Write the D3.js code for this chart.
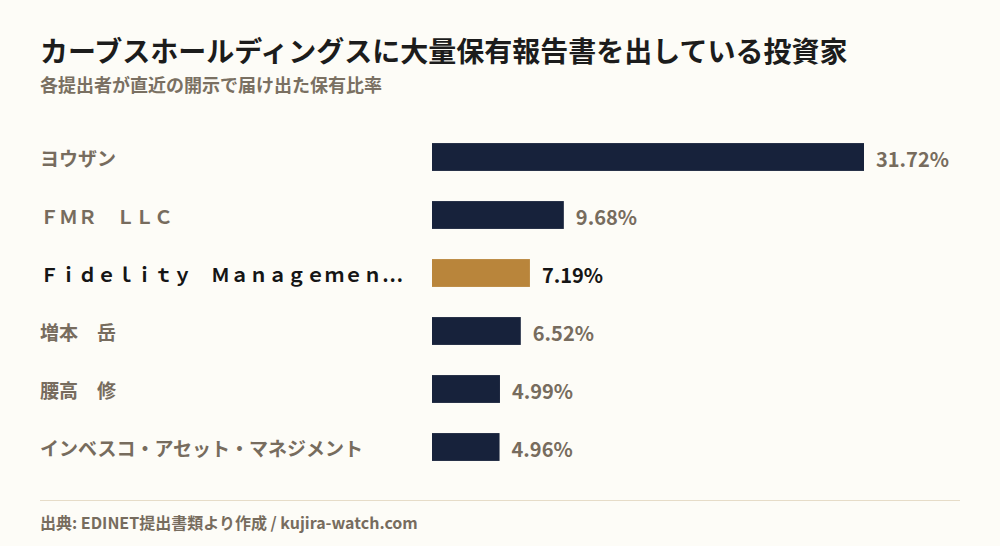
<!DOCTYPE html>
<html>
<head>
<meta charset="utf-8">
<script src="https://cdn.jsdelivr.net/npm/d3@7"></script>
<style>
  html, body { margin: 0; padding: 0; background: #fdfcf7; }
  svg { display: block; font-family: "Noto Sans CJK JP", "Noto Sans", sans-serif; }
</style>
</head>
<body>
<div id="chart"></div>
<script>
// holders and their reported ratios (%)
var holders = ["ヨウザン", "ＦＭＲ　ＬＬＣ", "Ｆｉｄｅｌｉｔｙ　Ｍａｎａｇｅｍｅｎ…", "増本　岳", "腰高　修", "インベスコ・アセット・マネジメント"];
var ratios = [31.72, 9.68, 7.19, 6.52, 4.99, 4.96];
var highlighted = [false, false, true, false, false, false];

var width = 1000, height = 546;
var margin = { left: 432, top: 128 };

var svg = d3.select("#chart")
    .append("svg")
    .attr("width", width)
    .attr("height", height);

svg.append("rect")
    .attr("width", width)
    .attr("height", height)
    .attr("fill", "#fdfcf7");

// title
svg.append("text")
    .attr("x", 40)
    .attr("y", 62)
    .attr("font-size", "28px")
    .attr("font-weight", "bold")
    .attr("fill", "#1c1c1c")
    .text("カーブスホールディングスに大量保有報告書を出している投資家");

svg.append("text")
    .attr("x", 40)
    .attr("y", 92)
    .attr("font-size", "18px")
    .attr("font-weight", "bold")
    .attr("fill", "#7a7062")
    .text("各提出者が直近の開示で届け出た保有比率");

var x = d3.scaleLinear()
    .domain([0, 31.72])
    .range([margin.left, 864]);

var y = d3.scaleBand()
    .domain(holders)
    .range([margin.top, margin.top + 58 * holders.length])
    .paddingInner(0.52)
    .paddingOuter(0.26);

var rows = svg.append("g")
    .selectAll("g")
    .data(holders)
    .enter()
    .append("g");

rows.append("rect")
    .attr("x", x(0))
    .attr("y", function (d) { return y(d); })
    .attr("width", function (d, i) { return x(ratios[i]) - x(0); })
    .attr("height", y.bandwidth())
    .attr("fill", function (d, i) { return highlighted[i] ? "#b9853b" : "#17223b"; });

rows.append("text")
    .attr("x", 40)
    .attr("y", function (d) { return y(d) + y.bandwidth() / 2 + 2; })
    .attr("dy", "0.35em")
    .attr("font-size", "19px")
    .attr("font-weight", "bold")
    .attr("fill", function (d, i) { return highlighted[i] ? "#151515" : "#776c5e"; })
    .text(function (d) { return d; });

rows.append("text")
    .attr("x", function (d, i) { return x(ratios[i]) + 12; })
    .attr("y", function (d) { return y(d) + y.bandwidth() / 2 + 2; })
    .attr("dy", "0.38em")
    .attr("font-size", "20px")
    .attr("font-weight", "bold")
    .attr("fill", function (d, i) { return highlighted[i] ? "#151515" : "#776c5e"; })
    .text(function (d, i) { return ratios[i].toFixed(2) + "%"; });

// footer
svg.append("line")
    .attr("x1", 40)
    .attr("x2", 960)
    .attr("y1", 500.5)
    .attr("y2", 500.5)
    .attr("stroke", "#e6dcc8")
    .attr("stroke-width", 1);

svg.append("text")
    .attr("x", 40)
    .attr("y", 529)
    .attr("font-size", "16px")
    .attr("font-weight", "bold")
    .attr("fill", "#776c5e")
    .text("出典: EDINET提出書類より作成 / kujira-watch.com");
</script>
</body>
</html>
